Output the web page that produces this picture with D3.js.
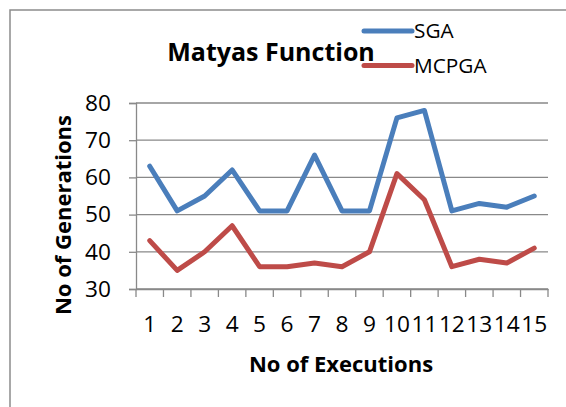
<!DOCTYPE html>
<html>
<head>
<meta charset="utf-8">
<script src="https://cdn.jsdelivr.net/npm/d3@7"></script>
<style>
  body { margin: 0; background: #fff; }
  text { font-family: "Open Sans", sans-serif; fill: #000; }
</style>
</head>
<body>
<div id="chart"></div>
<script>
const executions = ['1','2','3','4','5','6','7','8','9','10','11','12','13','14','15'];
const sga = [63, 51, 55, 62, 51, 51, 66, 51, 51, 76, 78, 51, 53, 52, 55];
const mcpga = [43, 35, 40, 47, 36, 36, 37, 36, 40, 61, 54, 36, 38, 37, 41];
const yTicks = [30, 40, 50, 60, 70, 80];
const seriesNames = ['SGA', 'MCPGA'];

const width = 566;
const height = 407;
const plotLeft = 136, plotRight = 548, plotTop = 103, plotBottom = 289;

const colors = { SGA: '#4a7ebb', MCPGA: '#be4b48' };
const gridColor = '#898989';

const svg = d3.select('#chart')
  .append('svg')
  .attr('width', width)
  .attr('height', height);

// outer frame (only top and left edges visible)
svg.append('path')
  .attr('d', `M10,${height + 5}V10H${width + 5}`)
  .attr('fill', 'none')
  .attr('stroke', '#8c8c8c')
  .attr('stroke-width', 1.5);

const x = d3.scaleBand()
  .domain(executions)
  .range([plotLeft, plotRight])
  .padding(0);

const edge = d3.scaleLinear()
  .domain([0, executions.length])
  .range([plotLeft, plotRight]);

const y = d3.scaleLinear()
  .domain([30, 80])
  .range([plotBottom, plotTop]);

// gridlines
svg.append('g')
  .selectAll('line')
  .data(yTicks)
  .enter().append('line')
    .attr('x1', plotLeft)
    .attr('x2', plotRight)
    .attr('y1', d => y(d))
    .attr('y2', d => y(d))
    .attr('stroke', gridColor)
    .attr('stroke-width', 1.3);

// y axis
const yAxis = svg.append('g')
  .attr('transform', `translate(${plotLeft},0)`)
  .call(d3.axisLeft(y).tickValues(yTicks).tickSize(7).tickPadding(18));
yAxis.select('.domain').attr('stroke', gridColor).attr('stroke-width', 1.3);
yAxis.selectAll('.tick line').attr('stroke', gridColor).attr('stroke-width', 1.3);
yAxis.selectAll('.tick text')
  .style('font-family', '"Open Sans", sans-serif')
  .style('font-size', '22.7px')
  .attr('fill', '#000');

// x axis: labels at category centres, ticks at category edges
const xAxis = svg.append('g')
  .attr('transform', `translate(0,${plotBottom})`)
  .call(d3.axisBottom(x).tickSize(0).tickPadding(27));
xAxis.select('.domain').attr('stroke', gridColor).attr('stroke-width', 1.3);
xAxis.selectAll('.tick text')
  .style('font-family', '"Open Sans", sans-serif')
  .style('font-size', '22.7px')
  .attr('fill', '#000');

svg.append('g')
  .selectAll('line')
  .data(d3.range(executions.length + 1))
  .enter().append('line')
    .attr('x1', d => edge(d))
    .attr('x2', d => edge(d))
    .attr('y1', plotBottom)
    .attr('y2', plotBottom + 8)
    .attr('stroke', gridColor)
    .attr('stroke-width', 1.3);

// lines
const line = d3.line()
  .x((d, i) => x(executions[i]) + x.bandwidth() / 2)
  .y(d => y(d));

[['SGA', sga], ['MCPGA', mcpga]].forEach(([name, vals]) => {
  svg.append('path')
    .datum(vals)
    .attr('d', line)
    .attr('fill', 'none')
    .attr('stroke', colors[name])
    .attr('stroke-width', 5)
    .attr('stroke-linejoin', 'round')
    .attr('stroke-linecap', 'round');
});

// title
svg.append('text')
  .attr('x', 271)
  .attr('y', 61)
  .attr('text-anchor', 'middle')
  .style('font-size', '25px')
  .style('font-weight', 'bold')
  .text('Matyas Function');

// legend
const legend = svg.append('g')
  .selectAll('g')
  .data(seriesNames)
  .enter().append('g')
    .attr('transform', (d, i) => `translate(0,${31 + i * 34.5})`);

legend.append('line')
  .attr('x1', 364)
  .attr('x2', 412)
  .attr('stroke', d => colors[d])
  .attr('stroke-width', 5)
  .attr('stroke-linecap', 'round');

legend.append('text')
  .attr('x', 414)
  .attr('y', 7)
  .style('font-size', '20.8px')
  .text(d => d);

// axis titles
svg.append('text')
  .attr('x', 341)
  .attr('y', 372)
  .attr('text-anchor', 'middle')
  .style('font-size', '22px')
  .style('font-weight', 'bold')
  .text('No of Executions');

svg.append('text')
  .attr('transform', 'translate(71,215) rotate(-90)')
  .attr('text-anchor', 'middle')
  .style('font-size', '22px')
  .style('font-weight', 'bold')
  .text('No of Generations');
</script>
</body>
</html>
